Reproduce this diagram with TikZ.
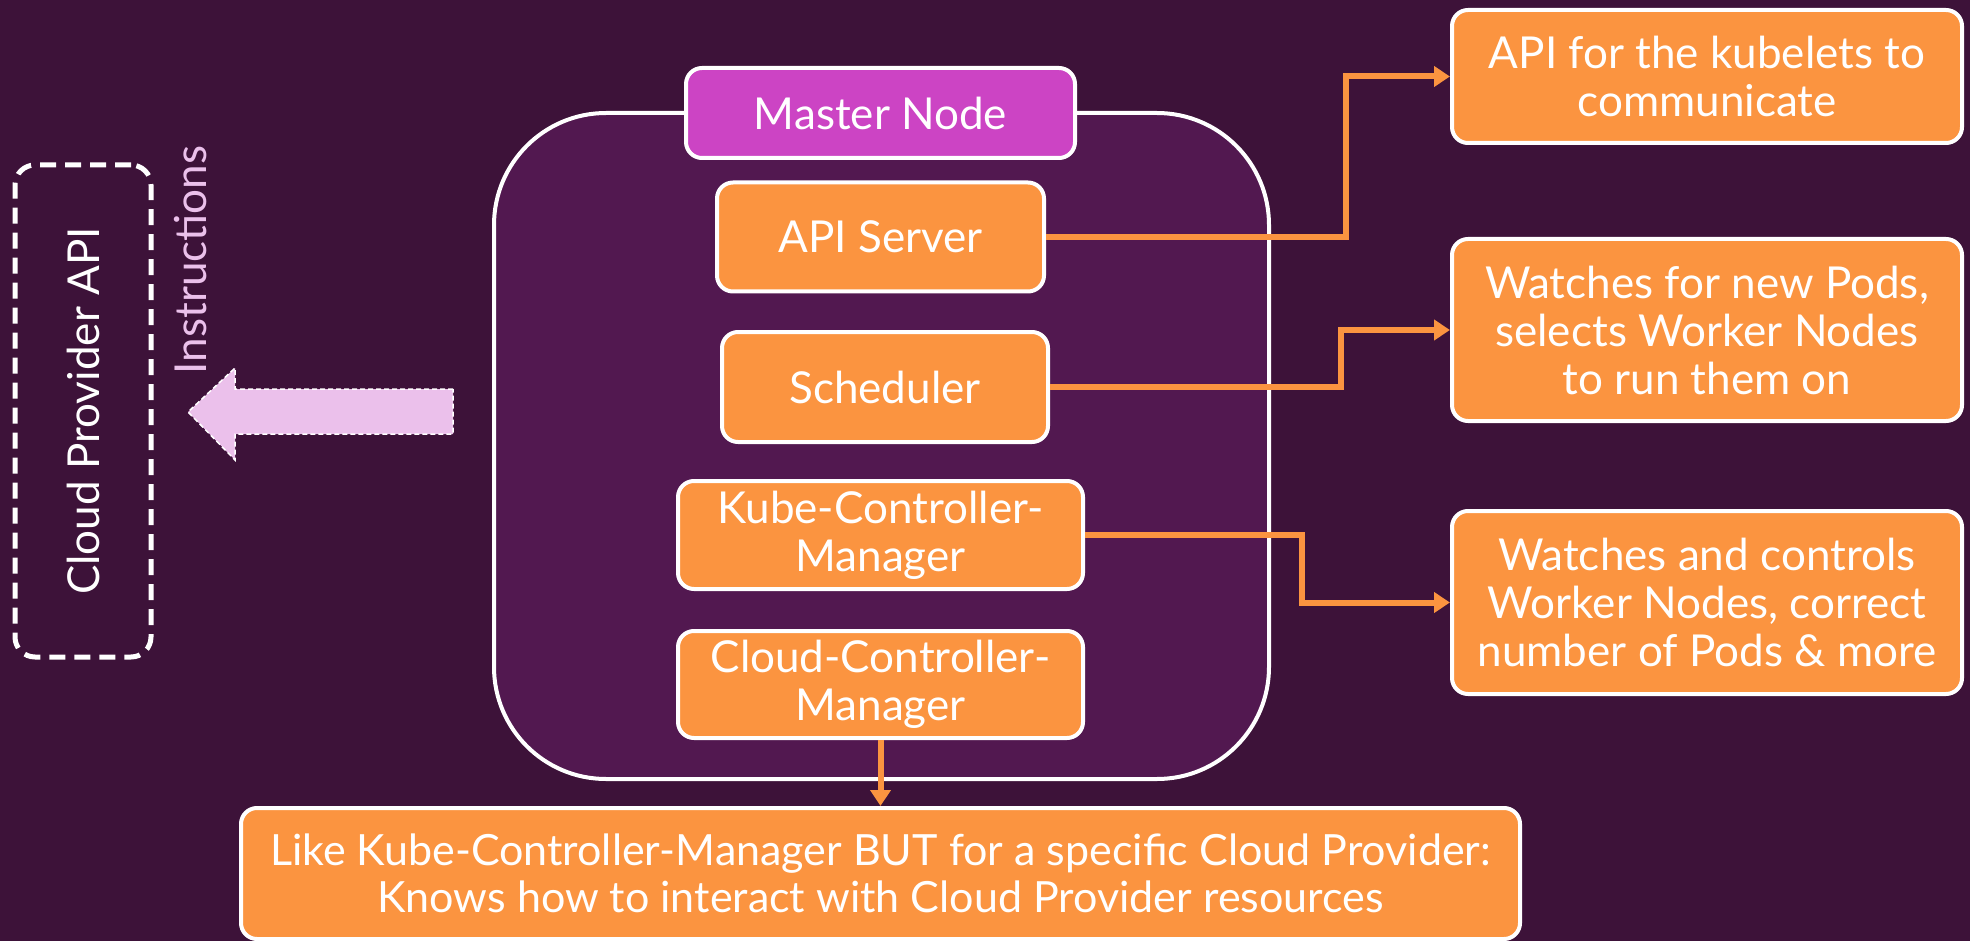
\documentclass[tikz,border=0pt]{standalone}
\usepackage{fontspec}
\setmainfont{Lato}
\usetikzlibrary{arrows.meta}
\definecolor{bgpurple}{HTML}{3D1239}
\definecolor{contpurple}{HTML}{521850}
\definecolor{orangebox}{HTML}{FB9440}
\definecolor{magentabox}{HTML}{CC44C4}
\definecolor{lightpink}{HTML}{EBC0EB}
\tikzset{
  obox/.style={draw=white, line width=2pt, fill=orangebox, text=white, rounded corners=8pt,
    align=center, inner sep=0pt, font=\fontsize{22}{24}\selectfont},
  mbox/.style={obox, fill=magentabox},
  conn/.style={draw=orangebox, line width=3pt, -{Triangle[length=8pt,width=10pt]}},
}
\begin{document}
\begin{tikzpicture}[x=0.5pt,y=-0.5pt]
\useasboundingbox (0,0) rectangle (1970,941);
\fill[bgpurple] (0,0) rectangle (1970,941);

% container
\draw[white, line width=2pt, fill=contpurple, rounded corners=56pt] (494,113) rectangle (1269,779);

% nodes
\node[mbox, minimum width=194.5pt, minimum height=45pt] (master) at (880.5,113) {Master Node};
\node[obox, minimum width=163.5pt, minimum height=54.5pt] (api) at (880.5,237) {API Server};
\node[obox, minimum width=163pt, minimum height=55pt] (sched) at (885,387) {Scheduler};
\node[obox, minimum width=202.5pt, minimum height=54pt] (kcm) at (880.5,535) {Kube-Controller-\\Manager};
\node[obox, minimum width=202.5pt, minimum height=53.5pt] (ccm) at (880.5,684.5) {Cloud-Controller-\\Manager};

\node[obox, minimum width=255pt, minimum height=66.5pt] (k1) at (1707,76.5) {API for the kubelets to\\communicate};
\node[obox, minimum width=255pt, minimum height=91pt] (k2) at (1707,330) {Watches for new Pods,\\selects Worker Nodes\\to run them on};
\node[obox, minimum width=255pt, minimum height=91.5pt] (k3) at (1707,602.5) {Watches and controls\\Worker Nodes, correct\\number of Pods \& more};
\node[obox, minimum width=639.5pt, minimum height=65.5pt, font=\fontsize{21.5}{23.25}\selectfont] (bottom) at (880.5,873.5) {Like Kube-Controller-Manager BUT for a specific Cloud Provider:\\Knows how to interact with Cloud Provider resources};

% cloud provider api
\node[draw=white, line width=2.5pt, dash pattern=on 8pt off 4.5pt, rounded corners=10pt,
  minimum width=68pt, minimum height=246pt, inner sep=0pt] (cloud) at (83,411) {};
\node[text=white, rotate=90, font=\fontsize{22}{24}\selectfont] (cloudtxt) at (cloud.center) {Cloud Provider API};
\node[text=lightpink, rotate=90, font=\fontsize{22}{24}\selectfont] (instr) at (191,260) {Instructions};

% fat arrow
\draw[fill=lightpink, draw=white, line width=0.75pt, dash pattern=on 2.5pt off 1.5pt]
  (453,389) -- (235,389) -- (235,368) -- (188,412) -- (235,460) -- (235,434) -- (453,434) -- cycle;

% connectors
\coordinate (bendA) at (1346,0);
\coordinate (bendB) at (1341,0);
\coordinate (bendC) at (1302,0);
\draw[conn] (api.east) -- (api.east -| bendA) |- (k1.west);
\draw[conn] (sched.east) -- (sched.east -| bendB) |- (k2.west);
\draw[conn] (kcm.east) -- (kcm.east -| bendC) |- (k3.west);
\draw[conn] (ccm.south) -- (bottom.north);
\end{tikzpicture}
\end{document}
